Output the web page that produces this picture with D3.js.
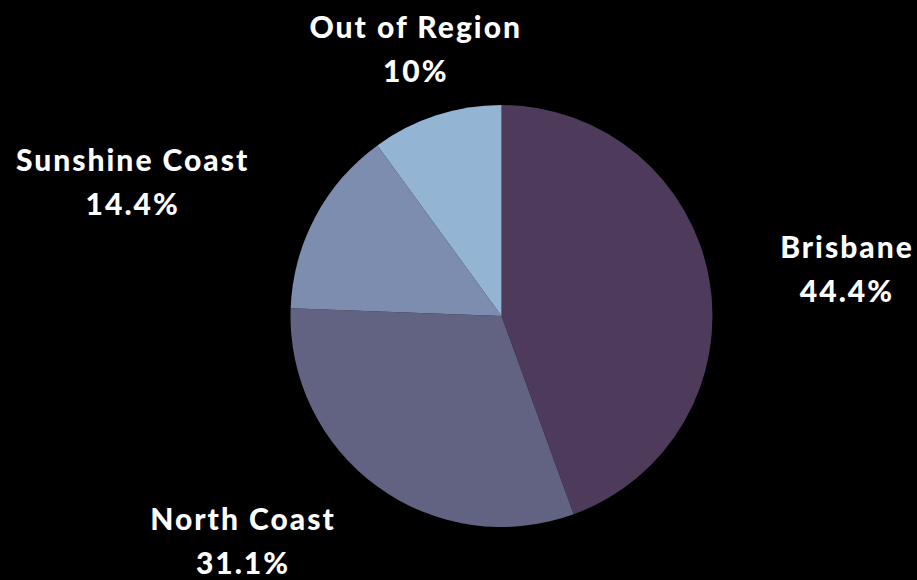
<!DOCTYPE html>
<meta charset="utf-8">
<style>
body { margin: 0; background: #000; }
svg { display: block; }
.label { font-family: 'Lato', 'DejaVu Sans', sans-serif; font-weight: 900; font-size: 30px; letter-spacing: 2px; fill: #fff; }
</style>
<svg width="917" height="580"></svg>
<script src="https://d3js.org/d3.v7.min.js"></script>
<script>

var regions = ["Brisbane", "North Coast", "Sunshine Coast", "Out of Region"];
var shares = [44.4, 31.1, 14.4, 10];
var shareLabels = ["44.4%", "31.1%", "14.4%", "10%"];
var colours = ["#4e3a5a", "#626283", "#7c8daf", "#93b5d3"];

// nudges so labels sit where the original put them
var labelNudge = {
  "Brisbane": [50, -6],
  "North Coast": [-82, -29],
  "Sunshine Coast": [-104, -4],
  "Out of Region": [7, 7]
};

var svg = d3.select("svg"),
    cx = 501.5, cy = 316, radius = 211;

var data = regions.map(function(r, i) { return {name: r, value: shares[i], label: shareLabels[i]}; });

var pie = d3.pie().sort(null).value(function(d) { return d.value; });
var arc = d3.arc().innerRadius(0).outerRadius(radius);
var labelArc = d3.arc().innerRadius(300).outerRadius(300);
var colour = d3.scaleOrdinal().domain(regions).range(colours);

var g = svg.append("g").attr("transform", "translate(" + cx + "," + cy + ")");

g.selectAll("path")
  .data(pie(data))
  .enter().append("path")
    .attr("d", arc)
    .attr("fill", function(d) { return colour(d.data.name); });

var lab = g.selectAll("text")
  .data(pie(data))
  .enter().append("text")
    .attr("class", "label")
    .attr("text-anchor", "middle")
    .attr("transform", function(d) {
      var c = labelArc.centroid(d), n = labelNudge[d.data.name];
      return "translate(" + (c[0] + n[0]) + "," + (c[1] + n[1]) + ")";
    });

lab.append("tspan").attr("x", 0).attr("y", 0).text(function(d) { return d.data.name; });
lab.append("tspan").attr("x", 0).attr("y", 44).text(function(d) { return d.data.label; });

</script>
